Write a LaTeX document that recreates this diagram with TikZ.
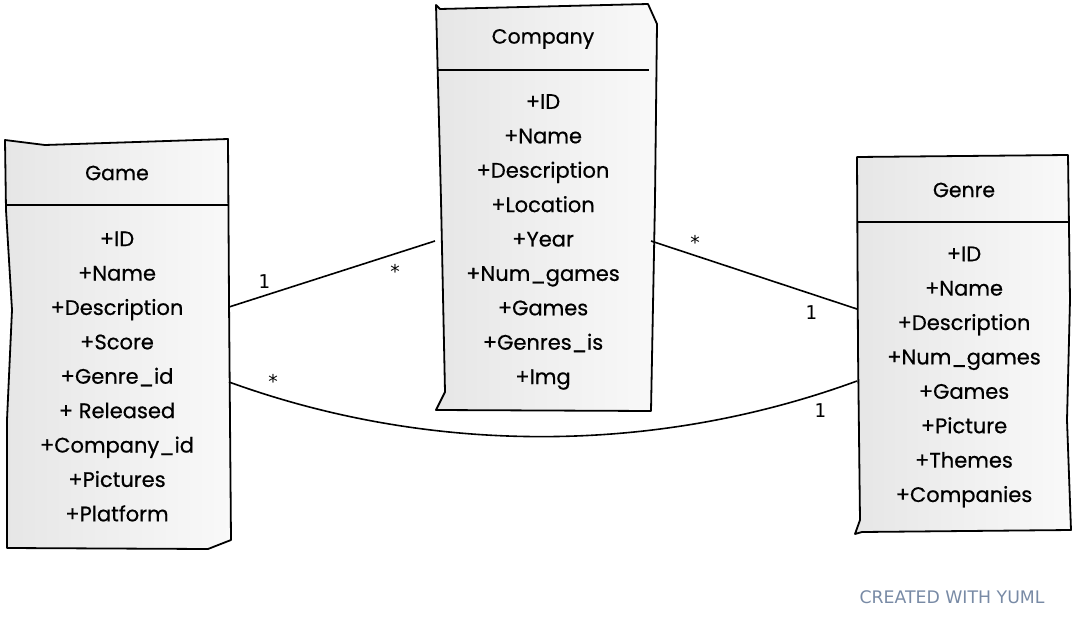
\documentclass[tikz,border=0pt]{standalone}
\usepackage{fontspec}
\newfontfamily\hand[FakeBold=0.6]{Poppins}
\newfontfamily\labfont{DejaVu Sans Mono}
\newfontfamily\credfont{DejaVu Sans}
\begin{document}
\begin{tikzpicture}[x=1pt,y=-1pt,
  boxline/.style={draw=black, line width=1.8pt, line join=round,
    left color={rgb,255:red,230;green,230;blue,230}, right color={rgb,255:red,249;green,249;blue,249}},
  divider/.style={line width=1.6pt},
  title/.style={font=\hand\fontsize{20.5}{22}\selectfont, inner sep=0pt},
  attrs/.style={font=\hand\fontsize{21}{34.4}\selectfont, align=center, inner sep=0pt},
  conn/.style={line width=1.6pt},
  mult/.style={font=\labfont\fontsize{19}{20}\selectfont, inner sep=0pt}]
\useasboundingbox (0,0) rectangle (1080,621);

% Game box
\path[boxline] (5,140) -- (45,145) -- (228,139) -- (229,300) -- (231,540) -- (208,549) -- (7,548) -- (7,420) -- (12,310) -- (6,210) -- cycle;
\draw[divider] (5,205) -- (228,205);
\node[title] (gametitle) at (117,173) {Game};
\node[attrs] (gameattrs) at (117,376.5) {+ID\\+Name\\+Description\\+Score\\+Genre\_id\\+ Released\\+Company\_id\\+Pictures\\+Platform};

% Company box
\path[boxline] (436,5) -- (440,9) -- (648,4) -- (657,24) -- (655,200) -- (651,411) -- (436,410) -- (445,392) -- (441,200) -- cycle;
\draw[divider] (437,70) -- (649,70);
\node[title] (comptitle) at (543,39) {Company};
\node[attrs] (compattrs) at (543,242) {+ID\\+Name\\+Description\\+Location\\+Year\\+Num\_games\\+Games\\+Genres\_is\\+Img};

% Genre box
\path[boxline] (857,157) -- (1068,155) -- (1070,300) -- (1067,420) -- (1071,530) -- (862,532) -- (855,534) -- (860,520) -- (858,350) -- cycle;
\draw[divider] (858,222) -- (1070,222);
\node[title] (genretitle) at (964,190) {Genre};
\node[attrs] (genreattrs) at (964,377) {+ID\\+Name\\+Description\\+Num\_games\\+Games\\+Picture\\+Themes\\+Companies};

% connector end points
\coordinate (gA) at (229,307);
\coordinate (cA) at (435,241);
\coordinate (cB) at (651,241);
\coordinate (nA) at (857,309);
\coordinate (gB) at (229,382);
\coordinate (nB) at (857,381);

\draw[conn] (gA) -- (cA);
\draw[conn] (cB) -- (nA);
\draw[conn] (gB) .. controls (430,455) and (655,455) .. (nB);

\node[mult] (m1) at (264,282) {1};
\node[mult] (m2) at (395,271) {*};
\node[mult] (m3) at (695,242) {*};
\node[mult] (m4) at (811,313) {1};
\node[mult] (m5) at (273,381) {*};
\node[mult] (m6) at (820,411) {1};

\node[font=\credfont\fontsize{17.3}{20}\selectfont, text={rgb,255:red,120;green,138;blue,165}, inner sep=0pt] (credit) at (952,597) {CREATED WITH YUML};
\end{tikzpicture}
\end{document}
